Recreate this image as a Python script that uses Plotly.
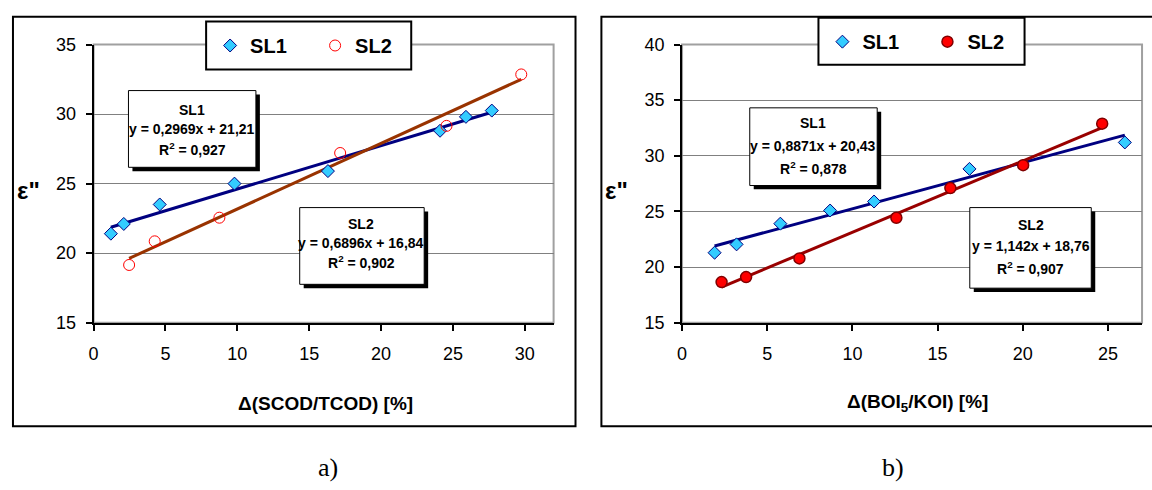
import numpy as np
import plotly.graph_objects as go

W, H = 1152, 490

# ---- data (panel a) ----
a_sl1_x = [1.2, 2.1, 4.6, 9.8, 16.3, 24.1, 25.9, 27.7]
a_sl1_y = [21.4, 22.1, 23.5, 25.0, 25.9, 28.8, 29.8, 30.25]
a_sl2_x = [2.47, 4.25, 8.75, 17.15, 24.55, 29.75]
a_sl2_y = [19.15, 20.85, 22.55, 27.2, 29.15, 32.85]
# ---- data (panel b) ----
b_sl1_x = [1.91, 3.2, 5.77, 8.69, 11.27, 16.87, 25.99]
b_sl1_y = [21.29, 22.04, 23.9, 25.08, 25.89, 28.82, 31.2]
b_sl2_x = [2.32, 3.76, 6.89, 12.58, 15.75, 20.02, 24.66]
b_sl2_y = [18.65, 19.1, 20.78, 24.43, 27.1, 29.16, 32.89]

a_eq1 = ["SL1", "y = 0,2969x + 21,21", "R<sup>2</sup> = 0,927"]
a_eq2 = ["SL2", "y = 0,6896x + 16,84", "R<sup>2</sup> = 0,902"]
b_eq1 = ["SL1", "y = 0,8871x + 20,43", "R<sup>2</sup> = 0,878"]
b_eq2 = ["SL2", "y = 1,142x + 18,76", "R<sup>2</sup> = 0,907"]

a_xticks = [0, 5, 10, 15, 20, 25, 30]
a_yticks = [15, 20, 25, 30, 35]
b_xticks = [0, 5, 10, 15, 20, 25]
b_yticks = [15, 20, 25, 30, 35, 40]

FONT = "Liberation Sans, Arial, sans-serif"
SERIF = "Liberation Serif, Times New Roman, serif"

def px(x):
    return x / W

def py(y):
    return 1 - y / H

def trend(xs, ys):
    k, b = np.polyfit(xs, ys, 1)
    xx = np.array([min(xs), max(xs)])
    return xx, k * xx + b

fig = go.Figure()

# panel a
tx, ty = trend(a_sl1_x, a_sl1_y)
fig.add_trace(go.Scatter(x=tx, y=ty, mode="lines", line=dict(color="#000080", width=3),
                         showlegend=False, xaxis="x", yaxis="y"))
tx, ty = trend(a_sl2_x, a_sl2_y)
fig.add_trace(go.Scatter(x=tx, y=ty, mode="lines", line=dict(color="#993300", width=3),
                         showlegend=False, xaxis="x", yaxis="y"))
fig.add_trace(go.Scatter(x=a_sl1_x, y=a_sl1_y, mode="markers", name="<b>SL1</b>",
                         marker=dict(symbol="diamond", size=10, color="#33CCFF",
                                     line=dict(color="#000080", width=1)),
                         xaxis="x", yaxis="y", legend="legend"))
fig.add_trace(go.Scatter(x=a_sl2_x, y=a_sl2_y, mode="markers", name="<b>SL2</b>",
                         marker=dict(symbol="circle-open", size=11, color="#FF0000",
                                     line=dict(color="#FF0000", width=1)),
                         xaxis="x", yaxis="y", legend="legend"))

# panel b
tx, ty = trend(b_sl1_x, b_sl1_y)
fig.add_trace(go.Scatter(x=tx, y=ty, mode="lines", line=dict(color="#000080", width=3),
                         showlegend=False, xaxis="x2", yaxis="y2"))
tx, ty = trend(b_sl2_x, b_sl2_y)
fig.add_trace(go.Scatter(x=tx, y=ty, mode="lines", line=dict(color="#990000", width=3),
                         showlegend=False, xaxis="x2", yaxis="y2"))
fig.add_trace(go.Scatter(x=b_sl1_x, y=b_sl1_y, mode="markers", name="<b>SL1</b>",
                         marker=dict(symbol="diamond", size=10, color="#33CCFF",
                                     line=dict(color="#000080", width=1)),
                         xaxis="x2", yaxis="y2", legend="legend2"))
fig.add_trace(go.Scatter(x=b_sl2_x, y=b_sl2_y, mode="markers", name="<b>SL2</b>",
                         marker=dict(symbol="circle", size=11, color="#FF0000",
                                     line=dict(color="#800000", width=1.5)),
                         xaxis="x2", yaxis="y2", legend="legend2"))

ydom = [py(326), py(36)]
axis_common = dict(showline=True, linecolor="black", linewidth=2, ticks="outside",
                   ticklen=6, tickwidth=2, tickcolor="black", zeroline=False,
                   tickfont=dict(family=FONT, size=18, color="black"))

legend_common = dict(orientation="h", xanchor="left", yanchor="middle",
                     bgcolor="rgba(0,0,0,0)", borderwidth=0, entrywidth=60,
                     entrywidthmode="pixels", itemwidth=30,
                     font=dict(family=FONT, size=20, color="black"))

fig.update_layout(
    width=W, height=H, margin=dict(l=0, r=0, t=0, b=0),
    paper_bgcolor="white", plot_bgcolor="white",
    xaxis=dict(domain=[px(89), px(551)], range=[0, 32], tickvals=a_xticks,
               showgrid=False, anchor="y", ticklabelstandoff=8, **axis_common),
    yaxis=dict(domain=ydom, range=[15, 35], tickvals=a_yticks, showgrid=True,
               gridcolor="#808080", gridwidth=1, anchor="x", ticklabelstandoff=6, **axis_common),
    xaxis2=dict(domain=[px(680), px(1142)], range=[0, 27], tickvals=b_xticks,
                showgrid=False, anchor="y2", ticklabelstandoff=8, **axis_common),
    yaxis2=dict(domain=ydom, range=[15, 40], tickvals=b_yticks, showgrid=True,
                gridcolor="#808080", gridwidth=1, anchor="x2", ticklabelstandoff=6, **axis_common),
    legend=dict(x=px(206), y=py(37), **legend_common),
    legend2=dict(x=px(821), y=py(33), **legend_common),
)

shapes = []
# outer panel frames
shapes.append(dict(type="rect", xref="paper", yref="paper", x0=px(8), x1=px(573),
                   y0=py(434), y1=py(7), line=dict(color="black", width=2), layer="below"))
shapes.append(dict(type="rect", xref="paper", yref="paper", x0=px(599), x1=px(1165),
                   y0=py(434), y1=py(7), line=dict(color="black", width=2), layer="below"))
# plot-area gray frames
for xr, yr in [("x domain", "y domain"), ("x2 domain", "y2 domain")]:
    shapes.append(dict(type="rect", xref=xr, yref=yr, x0=0, x1=1, y0=0, y1=1,
                       line=dict(color="#A0A0A0", width=2), layer="below"))
# legend boxes
for x0, x1, y0, y1 in [(202, 408, 12, 62), (817, 1024, 8, 57)]:
    shapes.append(dict(type="rect", xref="paper", yref="paper", x0=px(x0), x1=px(x1),
                       y0=py(y1), y1=py(y0), line=dict(color="black", width=2),
                       fillcolor="white", layer="above"))
# equation boxes with shadows
boxes = [(124, 252, 84, 164), (296, 421, 206, 286), (748, 876, 102, 183), (969, 1091, 206, 290)]
for x0, x1, y0, y1 in boxes:
    shapes.append(dict(type="rect", xref="paper", yref="paper", x0=px(x0 + 4), x1=px(x1 + 4),
                       y0=py(y1 + 4), y1=py(y0 + 4), line=dict(width=0),
                       fillcolor="black", layer="above"))
    shapes.append(dict(type="rect", xref="paper", yref="paper", x0=px(x0), x1=px(x1),
                       y0=py(y1), y1=py(y0), line=dict(color="black", width=1),
                       fillcolor="white", layer="above"))
fig.update_layout(shapes=shapes)

ann = []
def text(x, y, s, size, family=FONT, bold=True):
    ann.append(dict(xref="paper", yref="paper", x=px(x), y=py(y),
                    text=f"<b>{s}</b>" if bold else s,
                    showarrow=False, xanchor="center", yanchor="middle",
                    font=dict(family=family, size=size, color="black")))

eq_lines = [(a_eq1, 188, [104, 124, 145]), (a_eq2, 358, [223, 243, 263]),
            (b_eq1, 812, [118, 142, 165]), (b_eq2, 1030, [224, 246, 269])]
for lines, cx, ys in eq_lines:
    for s, yy in zip(lines, ys):
        text(cx, yy, s, 14)

text(24, 188, "ε\"", 24)
text(614, 188, "ε\"", 24)
text(322, 410, "Δ(SCOD/TCOD) [%]", 19)
text(916, 410, "Δ(BOI<sub>5</sub>/KOI) [%]", 19)
text(324, 477, "a)", 26, SERIF, bold=False)
text(892, 477, "b)", 26, SERIF, bold=False)
fig.update_layout(annotations=ann)

fig.write_html("out.html", config={"displayModeBar": False},
               post_script="document.body.style.margin='0';document.body.style.padding='0';")
